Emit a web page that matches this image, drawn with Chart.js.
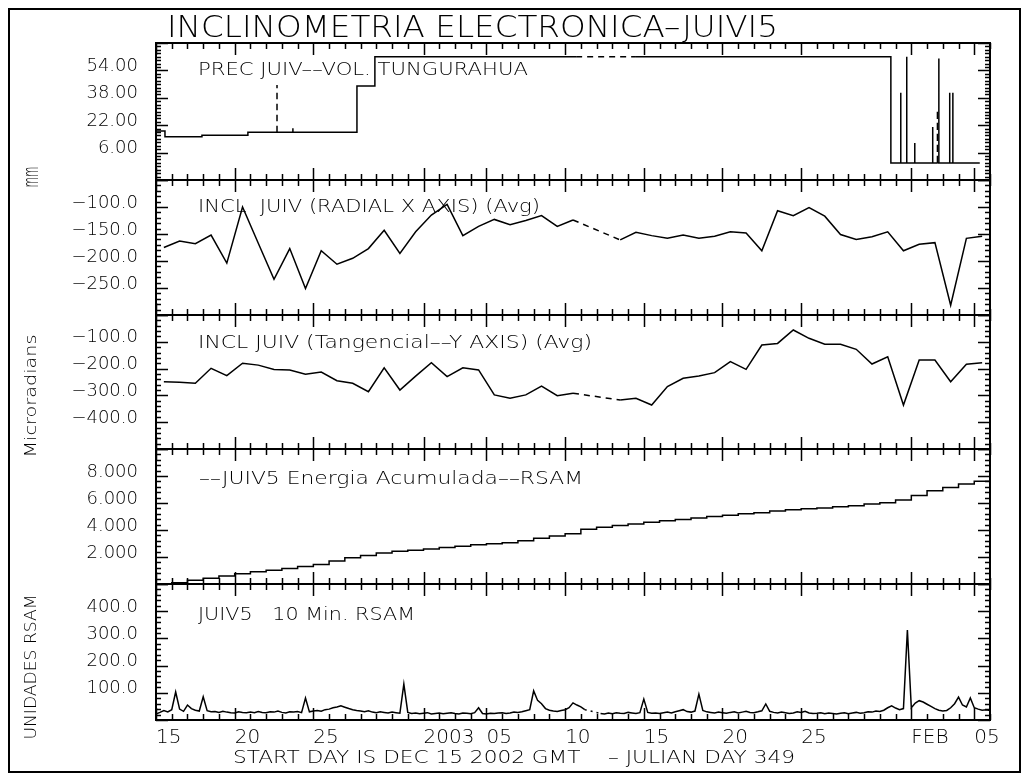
<!DOCTYPE html>
<html>
<head>
<meta charset="utf-8">
<script src="https://cdn.jsdelivr.net/npm/chart.js@4.4.1/dist/chart.umd.min.js"></script>
<style>
  html, body { margin: 0; padding: 0; background: #fff; }
  #page { position: relative; width: 1025px; height: 775px; overflow: hidden; background: #fff;
          font-family: "DejaVu Sans", "Liberation Sans", sans-serif; font-weight: 200; color: #000; }
  #frame { position: absolute; left: 8px; top: 8px; width: 1013px; height: 765px;
           border: 2px solid #000; box-sizing: border-box; }
  canvas.panel { position: absolute; left: 0; top: 0; }
  .txt { position: absolute; white-space: nowrap; line-height: 1; transform-origin: 0 0; }
  .vtxt { position: absolute; white-space: nowrap; line-height: 1; }
</style>
</head>
<body>
<div id="page">
  <div id="frame"></div>
  <canvas class="panel" id="c1" width="1025" height="775"></canvas>
  <canvas class="panel" id="c2" width="1025" height="775"></canvas>
  <canvas class="panel" id="c3" width="1025" height="775"></canvas>
  <canvas class="panel" id="c4" width="1025" height="775"></canvas>
  <canvas class="panel" id="c5" width="1025" height="775"></canvas>

  <div class="txt" data-x="167" data-cy="26" data-w="611" style="font-size:30px">INCLINOMETRIA ELECTRONICA&#8211;JUIVI5</div>
  <div class="txt" data-x="198" data-cy="69" data-w="330" style="font-size:17px">PREC JUIV&#8211;&#8211;VOL. TUNGURAHUA</div>
  <div class="txt" data-x="198" data-cy="206" data-w="342" style="font-size:17px">INCL&nbsp; JUIV (RADIAL X AXIS) (Avg)</div>
  <div class="txt" data-x="198" data-cy="342" data-w="394" style="font-size:17px">INCL JUIV (Tangencial&#8211;&#8211;Y AXIS) (Avg)</div>
  <div class="txt" data-x="199" data-cy="478" data-w="384" style="font-size:17px">&#8211;&#8211;JUIV5 Energia Acumulada&#8211;&#8211;RSAM</div>
  <div class="txt" data-x="198" data-cy="614" data-w="217" style="font-size:17px">JUIV5&nbsp;&nbsp; 10 Min. RSAM</div>
  <div class="txt" data-x="233" data-cy="757" data-w="562" style="font-size:18px">START DAY IS DEC 15 2002 GMT&nbsp;&nbsp;&nbsp; &#8211; JULIAN DAY 349</div>

  <div class="vtxt" data-cx="31" data-cy="177" data-w="21" style="font-size:21px">mm</div>
  <div class="vtxt" data-cx="31" data-cy="396" data-w="123" style="font-size:16px">Microradians</div>
  <div class="vtxt" data-cx="31" data-cy="667" data-w="145" style="font-size:16px">UNIDADES RSAM</div>
</div>

<script>
// ---- time axis: days since 15 Dec 2002 ----
const dayMin = 0;
const dayMax = 53;
const xTickDays = [0, 5, 10, 17, 21, 26, 31, 36, 41, 48, 52];
const xTickText = ['15', '20', '25', '2003', '05', '10', '15', '20', '25', 'FEB', '05'];

// ---- precipitation (mm), step trace with spikes; null marks missing data ----
const precipDay = [0, 0.57, 0.57, 2.92, 2.92, 5.84, 5.84, 7.69, 7.69, 7.69, 7.69, 7.69,
  8.7, 8.7, 8.7, 12.77, 12.77, 13.91, 13.91, 26.7, 28.5, 30.5, 46.7, 46.7,
  47.33, 47.33, 47.33, 47.71, 47.71, 47.71, 48.22, 48.22, 48.22, 49.36, 49.36, 49.36,
  49.66, 49.66, 49.66, 49.66, 49.66, 49.75, 49.75, 49.75, 50.44, 50.44, 50.44,
  50.64, 50.64, 50.64, 52.35];
const precipMm = [18.6, 18.6, 15.3, 15.3, 16.1, 16.1, 17.9, 17.9, null, 45.5, null, 17.9,
  17.9, 20.2, 17.9, 17.9, 44.9, 44.9, 62, 62, null, 62, 62, 0,
  0, 41, 0, 0, 62, 0, 0, 11.6, 0, 0, 21, 0,
  0, null, 31, null, 0, 0, 61, 0, 0, 41, 0,
  0, 41, 0, 0];
const precipTicks = [6, 22, 38, 54];

// ---- daily averaged tilt (microradians), one value per day ----
const radialX = [-175, -163, -168, -152, -204, -100, -167, -234, -177, -251,
  -181, -206, -195, -177, -143, -186, -146, -115, -95, -153,
  -136, -123, -133, -125, -116, -136, -124, null, null, -161,
  -147, -153, -158, -152, -158, -154, -146, -148, -181, -107,
  -116, -101, -117, -151, -160, -155, -146, -181, -169, -166,
  -282, -158, -154];
const radialTicks = [-250, -200, -150, -100];

const tangY = [-249, -251, -255, -199, -226, -180, -187, -203, -205, -221,
  -213, -245, -255, -286, -197, -280, -228, -178, -230, -197,
  -205, -298, -311, -298, -265, -301, -292, null, null, -317,
  -311, -336, -267, -236, -228, -215, -174, -203, -112, -106,
  -56, -87, -109, -109, -128, -183, -156, -336, -168, -168,
  -249, -184, -178];
const tangTicks = [-400, -300, -200, -100];

// ---- accumulated RSAM energy, value at each day boundary ----
const energyAcc = [0, 0.1, 0.28, 0.42, 0.6, 0.76, 0.9, 1.02, 1.15, 1.3,
  1.45, 1.7, 1.95, 2.12, 2.3, 2.42, 2.5, 2.6, 2.7, 2.8,
  2.9, 2.98, 3.05, 3.2, 3.38, 3.55, 3.72, 4.05, 4.2, 4.33,
  4.45, 4.58, 4.68, 4.78, 4.88, 5.0, 5.1, 5.2, 5.28, 5.4,
  5.5, 5.58, 5.63, 5.72, 5.8, 5.92, 6.02, 6.22, 6.55, 6.9,
  7.15, 7.4, 7.62, 7.78];
const energyTicks = [2, 4, 6, 8];

// ---- RSAM units, one value every 6 hours ----
const rsamStepDays = 0.25;
const rsam10 = [
  22, 28, 35, 30,   38, 103, 40, 32,   55, 42, 36, 33,   85, 34, 30, 31,
  28, 32, 29, 27,   26, 30, 28, 27,   29, 27, 31, 28,   27, 30, 29, 33,
  28, 26, 30, 29,   31, 27, 81, 30,   33, 35, 32, 38,   40, 45, 48, 52,
  47, 42, 38, 35,   33, 30, 34, 29,   27, 30, 28, 26,   29, 27, 25, 132,
  28, 24, 26, 23,   25, 27, 22, 24,   26, 23, 25, 27,   24, 22, 26, 25,
  23, 27, 45, 24,   22, 25, 24, 26,   27, 24, 26, 29,   28, 30, 34, 38,
  107, 72, 60, 42,  36, 33, 31, 35,   38, 45, 63, 55,   48, 38, null, null,
  null, 24, 22, 26, 23, 27, 25, 24,   28, 26, 24, 27,   77, 28, 25, 26,
  24, 27, 29, 26,   30, 34, 38, 31,   29, 33, 95, 35,   30, 28, 26, 29,
  27, 25, 28, 30,   26, 29, 32, 28,   27, 30, 34, 59,   32, 28, 26, 29,
  27, 24, 26, 30,   28, 32, 26, 24,   25, 27, 23, 26,   24, 22, 25, 27,
  23, 26, 28, 25,   27, 30, 29, 33,   31, 36, 45, 52,   44, 38, 42, 331,
  45, 62, 71, 66,   58, 50, 42, 36,   33, 35, 45, 60,   84, 55, 48, 81,
  45, 40, 36, 38,   35];
const rsamTicks = [100, 200, 300, 400];

// ---------------------------------------------------------------
const PAGE_H = 775;
const PLOT_RIGHT_PAD = 35;
const AXIS_W = 156;
const X_AXIS_H = 30;
const FONT_W = 200;

Chart.defaults.font.family = '"DejaVu Sans", "Liberation Sans", sans-serif';
Chart.defaults.color = '#000';

const gapDash = ctx => (ctx.p0.skip || ctx.p1.skip) ? [6, 5] : undefined;

// frame and inward tick marks for every panel
const panelFrame = {
  id: 'panelFrame',
  afterDraw(chart, args, opts) {
    const { ctx, chartArea: a, scales: { x, y } } = chart;
    ctx.save();
    ctx.strokeStyle = '#000';
    ctx.lineWidth = 1.5;
    ctx.beginPath();
    for (let d = dayMin; d <= dayMax; d++) {
      const px = Math.round(x.getPixelForValue(d)) + 0.5;
      const len = xTickDays.includes(d) ? 12 : 6;
      ctx.moveTo(px, a.top); ctx.lineTo(px, a.top + len);
      ctx.moveTo(px, a.bottom); ctx.lineTo(px, a.bottom - len);
    }
    const n = Math.round((y.max - y.min) / opts.minor);
    const every = Math.round(opts.major / opts.minor);
    for (let k = 0; k <= n; k++) {
      const v = y.min + k * opts.minor;
      const py = Math.round(y.getPixelForValue(v)) + 0.5;
      const len = (k % every === 0) ? 12 : 5;
      ctx.moveTo(a.left, py); ctx.lineTo(a.left + len, py);
      ctx.moveTo(a.right, py); ctx.lineTo(a.right - len, py);
    }
    ctx.stroke();
    ctx.lineWidth = 2;
    ctx.strokeRect(a.left, a.top, a.right - a.left, a.bottom - a.top);
    ctx.restore();
  }
};

function makePanel(id, p) {
  const xScale = {
    type: 'linear', min: dayMin, max: dayMax, display: !!p.showX,
    grid: { display: false, drawTicks: false }, border: { display: false },
    afterBuildTicks: s => { s.ticks = xTickDays.map(v => ({ value: v })); },
    afterFit: s => {
      s.height = p.showX ? X_AXIS_H : 0;
      s.paddingLeft = 0; s.paddingRight = 0;
    },
    ticks: {
      autoSkip: false, maxRotation: 0, minRotation: 0, align: 'start', padding: 6,
      font: { size: 20, weight: FONT_W },
      callback: (v, i) => xTickText[i]
    }
  };
  const yScale = {
    type: 'linear', position: 'left', min: p.min, max: p.max,
    grid: { display: false, drawTicks: false }, border: { display: false },
    afterBuildTicks: s => { s.ticks = p.ticks.map(v => ({ value: v })); },
    afterFit: s => { s.width = AXIS_W; s.paddingTop = 0; s.paddingBottom = 0; },
    ticks: { padding: 18, labelOffset: -4, font: { size: 18, weight: FONT_W }, callback: p.fmt }
  };
  return new Chart(document.getElementById(id), {
    type: 'line',
    data: { datasets: p.datasets },
    options: {
      responsive: false, animation: false, events: [],
      layout: { padding: { left: 0, right: PLOT_RIGHT_PAD, top: p.top,
                           bottom: PAGE_H - p.bottom - (p.showX ? X_AXIS_H : 0) } },
      plugins: { legend: { display: false }, tooltip: { enabled: false }, title: { display: false },
                 panelFrame: { major: p.major, minor: p.minor } },
      scales: { x: xScale, y: yScale },
      elements: { point: { radius: 0 }, line: { borderColor: '#000', borderWidth: 1.5, tension: 0 } }
    },
    plugins: [panelFrame]
  });
}

const minusFmt = (v, dec) => (v < 0 ? '\u2212' : '') + Math.abs(v).toFixed(dec);

makePanel('c1', {
  top: 43, bottom: 180, min: -10, max: 70, major: 16, minor: 2, ticks: precipTicks,
  fmt: v => v.toFixed(2),
  datasets: [{
    data: precipDay.map((d, i) => ({ x: d, y: precipMm[i] })),
    spanGaps: true, segment: { borderDash: gapDash }
  }]
});
makePanel('c2', {
  top: 180, bottom: 315, min: -300, max: -50, major: 50, minor: 10, ticks: radialTicks,
  fmt: v => minusFmt(v, 1),
  datasets: [{
    data: radialX.map((v, i) => ({ x: i + 0.5, y: v })),
    spanGaps: true, segment: { borderDash: gapDash }
  }]
});
makePanel('c3', {
  top: 315, bottom: 449, min: -500, max: 0, major: 100, minor: 20, ticks: tangTicks,
  fmt: v => minusFmt(v, 1),
  datasets: [{
    data: tangY.map((v, i) => ({ x: i + 0.5, y: v })),
    spanGaps: true, segment: { borderDash: gapDash }
  }]
});
makePanel('c4', {
  top: 449, bottom: 584, min: 0, max: 10, major: 2, minor: 0.4, ticks: energyTicks,
  fmt: v => v.toFixed(3),
  datasets: [{
    data: energyAcc.map((v, i) => ({ x: i, y: v })),
    stepped: true
  }]
});
makePanel('c5', {
  top: 584, bottom: 720, min: 0, max: 500, major: 100, minor: 20, ticks: rsamTicks,
  fmt: v => v.toFixed(1), showX: true,
  datasets: [{
    data: rsam10.map((v, i) => ({ x: i * rsamStepDays, y: v })),
    spanGaps: true, borderWidth: 1.5, segment: { borderDash: ctx => gapDash(ctx) ? [2, 4] : undefined }
  }]
});

// place and width-fit the text blocks
function placeText() {
  document.querySelectorAll('.txt').forEach(el => {
    el.style.transform = 'none';
    const fs = parseFloat(el.style.fontSize);
    const w = el.getBoundingClientRect().width;
    el.style.left = el.dataset.x + 'px';
    el.style.top = (parseFloat(el.dataset.cy) - 0.48 * fs) + 'px';
    el.style.transform = 'scaleX(' + (parseFloat(el.dataset.w) / w) + ')';
  });
  document.querySelectorAll('.vtxt').forEach(el => {
    el.style.transform = 'none';
    const w = el.getBoundingClientRect().width;
    el.style.left = el.dataset.cx + 'px';
    el.style.top = el.dataset.cy + 'px';
    el.style.transform = 'translate(-50%, -50%) rotate(-90deg) scaleX(' + (parseFloat(el.dataset.w) / w) + ')';
  });
}
placeText();
if (document.fonts && document.fonts.ready) document.fonts.ready.then(placeText);
</script>
</body>
</html>
